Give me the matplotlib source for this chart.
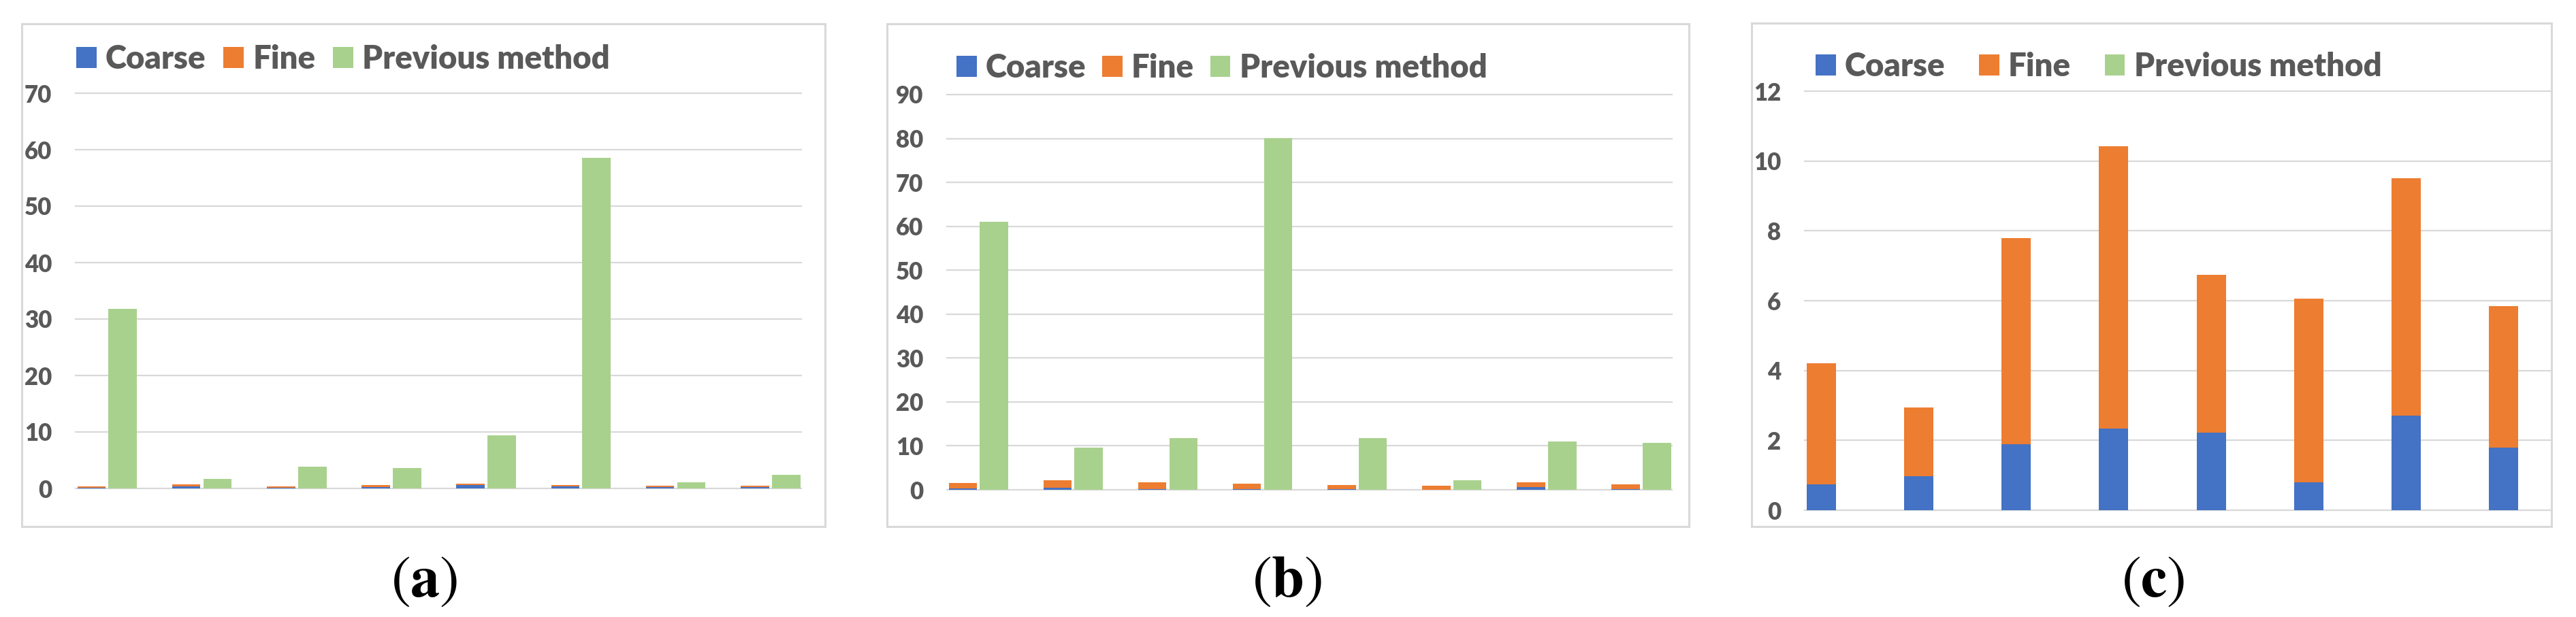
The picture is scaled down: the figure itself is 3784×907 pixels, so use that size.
import matplotlib
matplotlib.use("Agg")
import matplotlib.pyplot as plt
from matplotlib.patches import Rectangle
import numpy as np

plt.rcParams['mathtext.fontset'] = 'stix'

# ---------------- data ----------------
series_names = ["Coarse", "Fine", "Previous method"]
groups = list(range(8))

coarse_a = [0.17, 0.33, 0.12, 0.20, 0.58, 0.33, 0.20, 0.20]
fine_a = [0.16, 0.37, 0.21, 0.38, 0.25, 0.25, 0.26, 0.26]
prev_a = [31.8, 1.7, 3.8, 3.6, 9.4, 58.5, 1.05, 2.4]

coarse_b = [0.37, 0.53, 0.10, 0.10, 0.12, 0.05, 0.55, 0.12]
fine_b = [1.13, 1.61, 1.56, 1.29, 0.95, 0.95, 1.15, 1.13]
prev_b = [61.1, 9.6, 11.8, 80.1, 11.8, 2.15, 11.0, 10.7]

coarse_c = [0.74, 0.97, 1.89, 2.33, 2.23, 0.79, 2.70, 1.79]
fine_c = [3.46, 1.98, 5.90, 8.10, 4.52, 5.26, 6.80, 4.05]
prev_c = [0, 0, 0, 0, 0, 0, 0, 0]

yticks_a = [0, 10, 20, 30, 40, 50, 60, 70]
yticks_b = [0, 10, 20, 30, 40, 50, 60, 70, 80, 90]
yticks_c = [0, 2, 4, 6, 8, 10, 12]
captions = ["a", "b", "c"]

# ---------------- style ----------------
C_COARSE = "#4472C4"
C_FINE = "#ED7D31"
C_PREV = "#A9D18E"
C_GRID = "#D9D9D9"
C_TEXT = "#595959"
FONT = "Lato"

W, H = 3784, 907
fig = plt.figure(figsize=(W / 100, H / 100), dpi=100)

panels = [
    dict(data=(coarse_a, fine_a, prev_a), yt=yticks_a,
         axpos=(111, 718, 1177, 137), frame=(32, 35, 1212, 774),
         leg=(112, 87, 0.55), cap=(623, 853)),
    dict(data=(coarse_b, fine_b, prev_b), yt=yticks_b,
         axpos=(1391, 720, 2456, 139), frame=(1303, 35, 2481, 774),
         leg=(1405, 100, 0.5), cap=(1891, 853)),
    dict(data=(coarse_c, fine_c, prev_c), yt=yticks_c,
         axpos=(2651, 750, 3748, 134), frame=(2573, 34, 3748, 774),
         leg=(2667, 98, 1.05), cap=(3163, 853)),
]

bw = 0.30
off = 0.165
x = np.array(groups, dtype=float)

for p, cap in zip(panels, captions):
    x0, yb, x1, yt = p["axpos"]
    ax = fig.add_axes([x0 / W, (H - yb) / H, (x1 - x0) / W, (yb - yt) / H])
    coarse, fine, prev = p["data"]
    b1 = ax.bar(x - off, coarse, bw, color=C_COARSE, zorder=3, label=series_names[0])
    b2 = ax.bar(x - off, fine, bw, bottom=coarse, color=C_FINE, zorder=3, label=series_names[1])
    b3 = ax.bar(x + off, prev, bw, color=C_PREV, zorder=3, label=series_names[2])
    ax.set_xlim(-0.333, 7.325)
    ax.set_ylim(p["yt"][0], p["yt"][-1])
    ax.set_yticks(p["yt"])
    ax.set_yticklabels([str(v) for v in p["yt"]], fontfamily=FONT,
                       fontweight="heavy", fontsize=25, color=C_TEXT)
    ax.set_xticks([])
    ax.tick_params(axis="y", length=0, pad=25)
    for s in ax.spines.values():
        s.set_visible(False)
    ax.grid(axis="y", color=C_GRID, linewidth=1.6, zorder=0)
    ax.set_axisbelow(True)
    for gl in ax.get_ygridlines():
        gl.set_clip_on(False)
    ax.patch.set_alpha(0)

    lx, ly, cs = p["leg"]
    ax.legend(handles=[b1, b2, b3], labels=series_names, loc="center left",
              bbox_to_anchor=(lx / W, (H - ly) / H), bbox_transform=fig.transFigure,
              ncol=3, frameon=False, borderpad=0, borderaxespad=0,
              handlelength=0.63, handleheight=0.63, handletextpad=0.28,
              columnspacing=cs, labelcolor=C_TEXT,
              prop=dict(family=FONT, weight="heavy", size=34))

    fx0, fy0, fx1, fy1 = p["frame"]
    fig.add_artist(Rectangle((fx0 / W, (H - fy1) / H), (fx1 - fx0) / W, (fy1 - fy0) / H,
                             transform=fig.transFigure, fill=False,
                             edgecolor=C_GRID, linewidth=2.2))

    cx, cy = p["cap"]
    fig.text(cx / W, (H - cy) / H, r"$(\mathbf{%s})$" % cap, ha="center", va="center",
             fontsize=62, color="black")

fig.savefig("out.png", dpi=100, facecolor="white")
